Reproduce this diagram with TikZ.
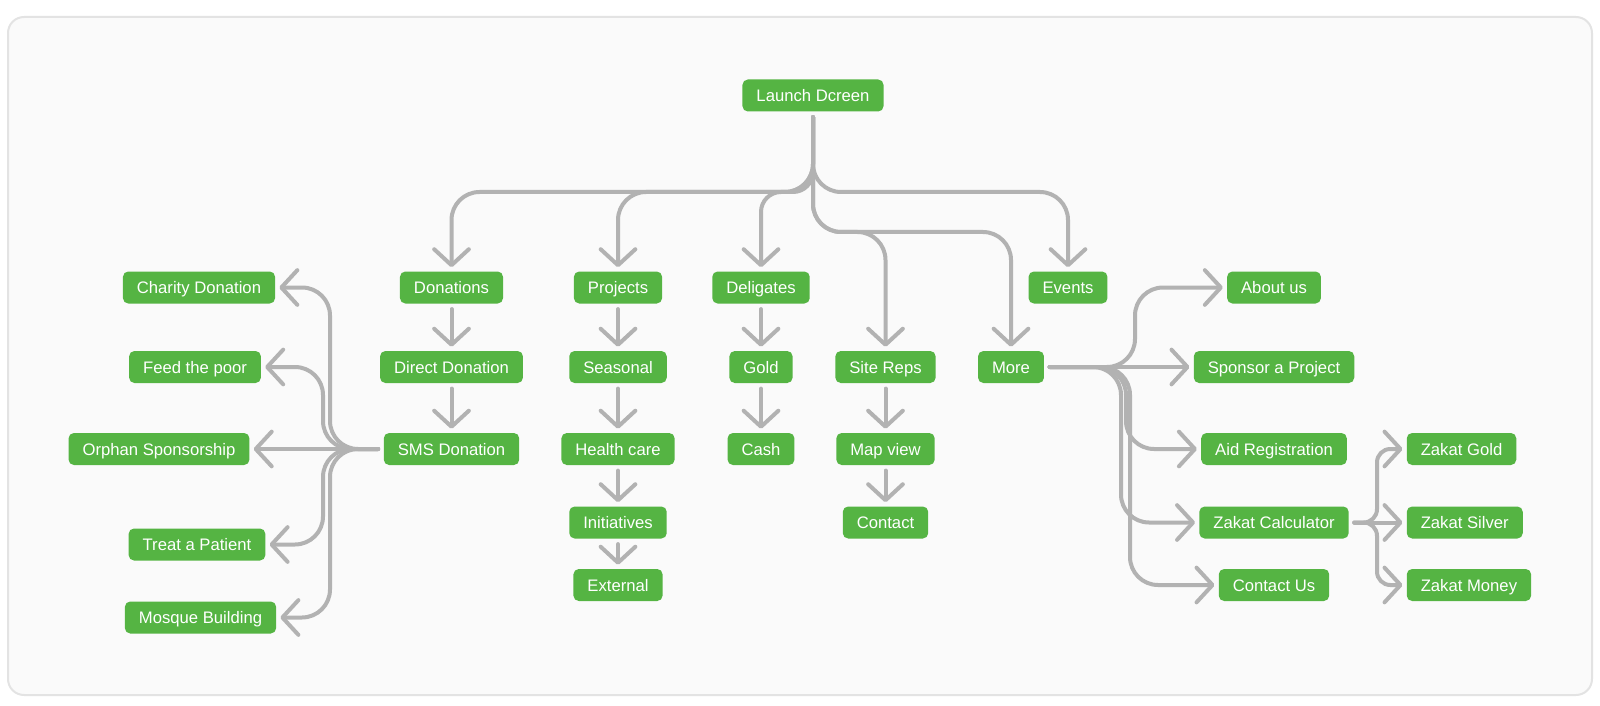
\documentclass[tikz,border=0pt]{standalone}
\usepackage{fontspec}
\setmainfont{Liberation Sans}
\usetikzlibrary{arrows.meta}

\definecolor{leafgreen}{HTML}{55B443}
\definecolor{wiregray}{HTML}{B2B2B2}
\definecolor{panelfill}{HTML}{FAFAFA}
\definecolor{panelline}{HTML}{E3E3E3}

\begin{document}
\begin{tikzpicture}[x=0.75pt,y=-0.75pt,>={Straight Barb[length=12pt,width=26pt,round]}]
    \tikzstyle{screen}=[rectangle,fill=leafgreen,text=white,rounded corners=4pt,minimum height=24pt,inner xsep=10.5pt,inner ysep=0pt,text height=9pt,text depth=0pt,font=\fontsize{12.5}{15}\selectfont]
    \tikzstyle{link}=[->,draw=wiregray,line width=3pt,line cap=round,rounded corners=21pt,shorten <=4pt,shorten >=3pt]

    \useasboundingbox (0,0) rectangle (1600,706);
    \draw [fill=panelfill,draw=panelline,line width=1.5pt,rounded corners=12pt] (8,17) rectangle (1592,695);

    \begin{scope}
      \node [screen] at (813,95.5) (launch) {Launch Dcreen};

      \node [screen] at (451.5,287.5) (donations) {Donations};
      \node [screen] at (451.5,367)   (direct)    {Direct Donation};
      \node [screen] at (451.5,449)   (sms)       {SMS Donation};

      \node [screen] at (618,287.5) (projects)    {Projects};
      \node [screen] at (618,367)   (seasonal)    {Seasonal};
      \node [screen] at (618,449)   (health)      {Health care};
      \node [screen] at (618,522.5) (initiatives) {Initiatives};
      \node [screen] at (618,585)   (external)    {External};

      \node [screen] at (761,287.5) (deligates) {Deligates};
      \node [screen] at (761,367)   (gold)      {Gold};
      \node [screen] at (761,449)   (cash)      {Cash};

      \node [screen] at (885.5,367)   (sitereps) {Site Reps};
      \node [screen] at (885.5,449)   (mapview)  {Map view};
      \node [screen] at (885.5,522.5) (contact)  {Contact};

      \node [screen] at (1068,287.5) (events) {Events};
      \node [screen] at (1011,367)   (more)   {More};

      \node [screen] at (199,287.5)   (charity) {Charity Donation};
      \node [screen] at (195,367)     (feed)    {Feed the poor};
      \node [screen] at (159,449)     (orphan)  {Orphan Sponsorship};
      \node [screen] at (197,544.5)   (treat)   {Treat a Patient};
      \node [screen] at (200.5,617.5) (mosque)  {Mosque Building};

      \node [screen] at (1274,287.5) (about)     {About us};
      \node [screen] at (1274,367)   (sponsor)   {Sponsor a Project};
      \node [screen] at (1274,449)   (aid)       {Aid Registration};
      \node [screen] at (1274,522.5) (zcalc)     {Zakat Calculator};
      \node [screen] at (1274,585)   (contactus) {Contact Us};

      \node [screen,anchor=west] at (1406.5,449)   (zgold)   {Zakat Gold};
      \node [screen,anchor=west] at (1406.5,522.5) (zsilver) {Zakat Silver};
      \node [screen,anchor=west] at (1406.5,585)   (zmoney)  {Zakat Money};

      \coordinate (forkA) at (813,192);
      \coordinate (forkB) at (813,232);

      % top fork
      \draw [link] (launch) -- (forkA) -| (donations);
      \draw [link] (launch) -- (forkA) -| (projects);
      \draw [link,rounded corners=15pt] (launch) -- (forkA) -| (deligates);
      \draw [link] (launch) -- (forkA) -| (events);
      \draw [link] (launch) -- (forkB) -| (sitereps);
      \draw [link] (launch) -- (forkB) -| (more);

      % columns
      \draw [link] (donations) -- (direct);
      \draw [link] (direct) -- (sms);
      \draw [link] (projects) -- (seasonal);
      \draw [link] (seasonal) -- (health);
      \draw [link] (health) -- (initiatives);
      \draw [link] (initiatives) -- (external);
      \draw [link] (deligates) -- (gold);
      \draw [link] (gold) -- (cash);
      \draw [link] (sitereps) -- (mapview);
      \draw [link] (mapview) -- (contact);

      % SMS Donation fan
      \draw [link] (sms) -- (330,449) |- (charity);
      \draw [link] (sms) -- (323,449) |- (feed);
      \draw [link] (sms) -- (orphan);
      \draw [link] (sms) -- (323,449) |- (treat);
      \draw [link] (sms) -- (330,449) |- (mosque);

      % More fan
      \draw [link] (more) -- (1135,367) |- (about);
      \draw [link] (more) -- (sponsor);
      \draw [link] (more) -- (1126,367) |- (aid);
      \draw [link] (more) -- (1121,367) |- (zcalc);
      \draw [link] (more) -- (1130,367) |- (contactus);

      % Zakat Calculator fan
      \draw [link,rounded corners=10pt] (zcalc) -- (1377,522.5) |- (zgold);
      \draw [link] (zcalc) -- (zsilver);
      \draw [link,rounded corners=10pt] (zcalc) -- (1377,522.5) |- (zmoney);
    \end{scope}

\end{tikzpicture}
\end{document}
